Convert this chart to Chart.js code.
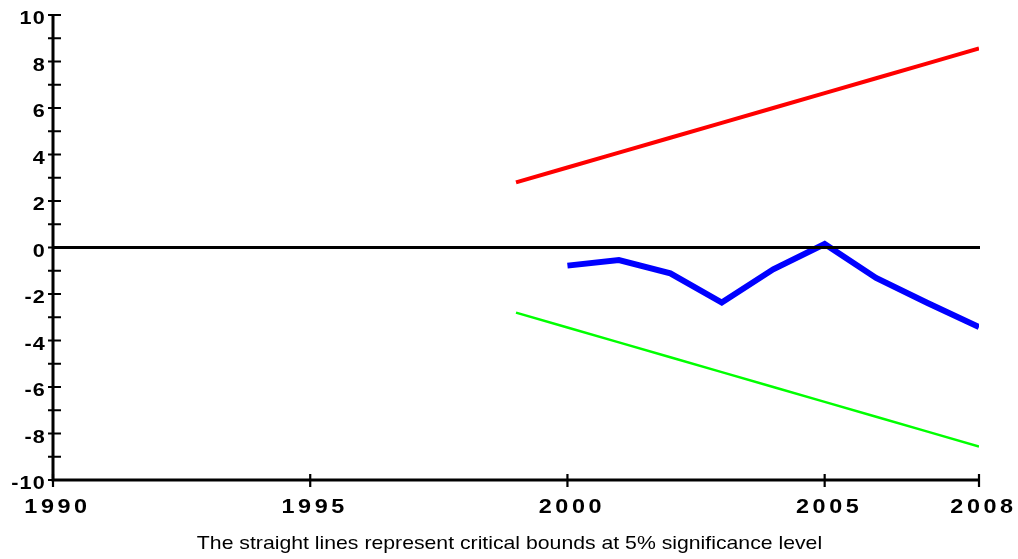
<!DOCTYPE html>
<html>
<head>
<meta charset="utf-8">
<script src="https://cdn.jsdelivr.net/npm/chart.js@4/dist/chart.umd.min.js"></script>
<style>
  html, body { margin: 0; padding: 0; background: #fff; }
  #wrap { width: 1018px; height: 559px; }
</style>
</head>
<body>
<div id="wrap"><canvas id="c" width="1018" height="559"></canvas></div>
<script>
// Recursive residual CUSUM with its 5% critical bounds
const boundYears = [1999, 2000, 2001, 2002, 2003, 2004, 2005, 2006, 2007, 2008];
const upperBound = [2.8, 3.44, 4.08, 4.72, 5.36, 6.0, 6.64, 7.28, 7.92, 8.56];
const lowerBound = [-2.8, -3.44, -4.08, -4.72, -5.36, -6.0, -6.64, -7.28, -7.92, -8.56];
const cusumYears = [2000, 2001, 2002, 2003, 2004, 2005, 2006, 2007, 2008];
const cusumValues = [-0.78, -0.54, -1.11, -2.37, -0.94, 0.15, -1.31, -2.39, -3.42];

const xTickLabels = [1990, 1995, 2000, 2005, 2008];
const yTickLabels = [10, 8, 6, 4, 2, 0, -2, -4, -6, -8, -10];
const caption = 'The straight lines represent critical bounds at 5% significance level';

const pts = (xs, ys) => xs.map((x, i) => ({ x: x, y: ys[i] }));

// text drawn with a slight horizontal stretch
function drawText(ctx, text, x, y, sx, align) {
  ctx.save();
  ctx.translate(x, y);
  ctx.scale(sx, 1);
  ctx.textAlign = align;
  ctx.fillText(text, 0, 0);
  ctx.restore();
}

// Hand-drawn axes: ticks crossing the axis lines, bold labels, zero line
const axesPlugin = {
  id: 'axesPlugin',
  afterDatasetsDraw(chart) {
    const ctx = chart.ctx;
    const xs = chart.scales.x, ys = chart.scales.y;
    const left = xs.getPixelForValue(1990), right = xs.getPixelForValue(2008);
    const top = ys.getPixelForValue(10), bottom = ys.getPixelForValue(-10);
    ctx.save();
    ctx.strokeStyle = '#000';
    ctx.lineCap = 'butt';

    // zero line
    ctx.lineWidth = 3;
    const y0 = ys.getPixelForValue(0);
    ctx.beginPath(); ctx.moveTo(left, y0); ctx.lineTo(right + 1, y0); ctx.stroke();

    // axis lines
    ctx.lineWidth = 3;
    ctx.beginPath();
    ctx.moveTo(left, top); ctx.lineTo(left, bottom + 1.5);
    ctx.moveTo(left - 1.5, bottom); ctx.lineTo(right, bottom);
    ctx.stroke();

    // y ticks (every unit)
    ctx.lineWidth = 2.2;
    ctx.beginPath();
    for (let v = -10; v <= 10; v++) {
      const y = ys.getPixelForValue(v);
      ctx.moveTo(left - 5, y); ctx.lineTo(left + 8, y);
    }
    // x ticks
    xTickLabels.forEach(v => {
      const x = xs.getPixelForValue(v);
      ctx.moveTo(x, bottom - 6); ctx.lineTo(x, bottom + 7);
    });
    ctx.stroke();

    ctx.fillStyle = '#000';
    ctx.textBaseline = 'alphabetic';

    // y labels
    ctx.font = 'bold 18px "Liberation Sans", Arial, sans-serif';
    ctx.letterSpacing = '1px';
    yTickLabels.forEach(v => {
      drawText(ctx, String(v), left - 7, ys.getPixelForValue(v) + 9, 1.2, 'right');
    });

    // x labels
    ctx.font = 'bold 19.5px "Liberation Sans", Arial, sans-serif';
    ctx.letterSpacing = '3px';
    xTickLabels.forEach(v => {
      drawText(ctx, String(v), xs.getPixelForValue(v) + 4.5, bottom + 33, 1.2, 'center');
    });

    // caption
    ctx.letterSpacing = '0px';
    ctx.font = '17.7px "Liberation Sans", Arial, sans-serif';
    drawText(ctx, caption, 509.5, 548.7, 1.2, 'center');
    ctx.restore();
  }
};

new Chart(document.getElementById('c'), {
  type: 'line',
  data: {
    datasets: [
      { data: pts(boundYears, upperBound), borderColor: '#ff0000', borderWidth: 4 },
      { data: pts(boundYears, lowerBound), borderColor: '#00ff00', borderWidth: 2.5 },
      { data: pts(cusumYears, cusumValues), borderColor: '#0000ff', borderWidth: 6, borderJoinStyle: 'miter' }
    ]
  },
  options: {
    responsive: false,
    animation: false,
    devicePixelRatio: 1,
    layout: { padding: { left: 53, right: 39, top: 15, bottom: 79 } },
    elements: { point: { radius: 0 }, line: { tension: 0, fill: false } },
    scales: {
      x: { type: 'linear', min: 1990, max: 2008, display: false },
      y: { type: 'linear', min: -10, max: 10, display: false }
    },
    plugins: { legend: { display: false }, tooltip: { enabled: false } }
  },
  plugins: [axesPlugin]
});
</script>
</body>
</html>
